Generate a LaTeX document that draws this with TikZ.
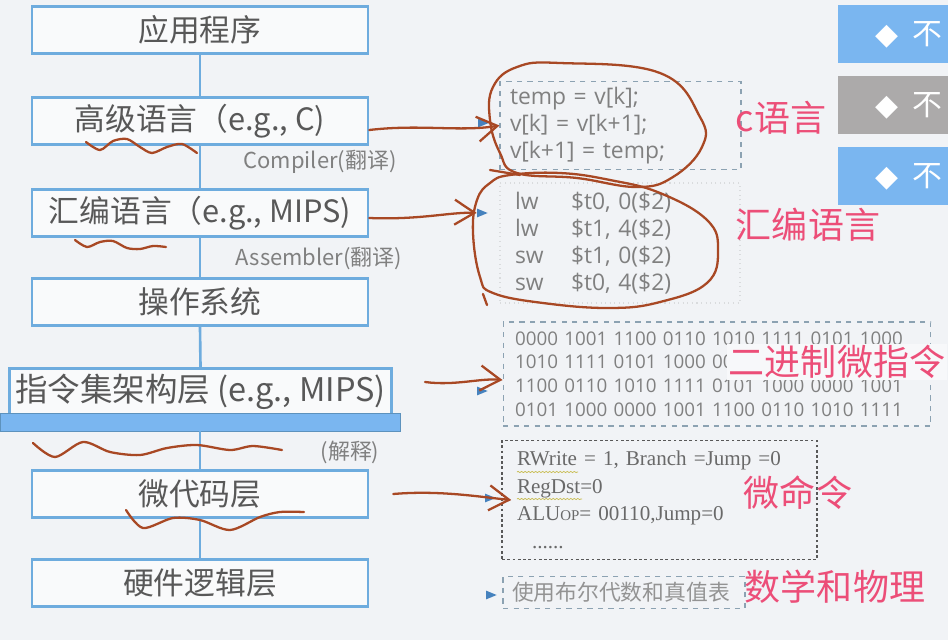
\documentclass[tikz,border=0pt]{standalone}
\usepackage{fontspec}
\setmainfont{Noto Sans CJK SC}
\newfontfamily\codefont{Open Sans}
\newfontfamily\microfont{Liberation Serif}
\newfontfamily\symfont{DejaVu Sans}
\definecolor{PageBg}{RGB}{241,243,246}
\definecolor{LayerBlue}{RGB}{110,172,222}
\definecolor{BarBlue}{RGB}{122,182,240}
\definecolor{TextGray}{RGB}{88,88,88}
\definecolor{CodeGray}{RGB}{128,128,128}
\definecolor{FrameGray}{RGB}{140,162,178}
\definecolor{Ink}{RGB}{168,72,36}
\definecolor{NotePink}{RGB}{236,78,120}
\definecolor{ButtonGray}{RGB}{172,170,170}
\definecolor{BulletBlue}{RGB}{70,130,190}
\definecolor{Squiggle}{RGB}{200,188,80}
\usetikzlibrary{arrows.meta,positioning,shapes.geometric,decorations.pathmorphing}

\begin{document}
\begin{tikzpicture}[x=0.02cm,y=-0.02cm,
  layer/.style={draw=LayerBlue,line width=1.5pt,fill=white!55!PageBg,minimum width=6.72cm,minimum height=0.94cm,text=TextGray,font=\fontsize{17.5}{20}\selectfont},
  layerline/.style={draw=LayerBlue,line width=1.5pt},
  tool/.style={text=CodeGray,font=\fontsize{12.5}{14}\selectfont},
  codebox/.style={draw=FrameGray,dashed,line width=0.6pt,align=left,text=CodeGray},
  bullet/.style={isosceles triangle,fill=BulletBlue,inner sep=0pt,minimum size=5pt},
  note/.style={text=NotePink,inner sep=1pt,font=\fontsize{20.5}{23}\selectfont},
  button/.style={anchor=north west,minimum height=1.16cm,text width=2.4cm,inner xsep=0.74cm,align=left,text=white,font=\fontsize{17}{20}\selectfont},
  ink/.style={draw=Ink,line width=1.3pt,line cap=round,line join=round},
  inkarrow/.style={ink,-{Straight Barb[length=4mm,width=5mm]}}]
  \clip (0,0) rectangle (948,640);
  \fill[PageBg] (0,0) rectangle (948,640);

  % layers
  \foreach \n/\y/\txt in {1/30/应用程序,2/121/{高级语言（e.g., C)},3/213/{汇编语言（e.g., MIPS)},4/302/操作系统,6/494/微代码层,7/583/硬件逻辑层}
    \node[layer] (L\n) at (200,\y) {\txt};
  \node[layer,minimum width=7.58cm,minimum height=0.88cm,font=\fontsize{18.5}{20}\selectfont] (L5) at (200.5,392) {指令集架构层 (e.g., MIPS)};
  \node[fill=BarBlue,draw=LayerBlue!85!black,line width=0.5pt,minimum width=8cm,minimum height=0.36cm,inner sep=0pt] (isabar) at (200,422) {};
  \foreach \a/\b in {1/2,2/3,3/4,4/5,6/7}
    \draw[layerline] (L\a.south) -- (L\b.north);
  \draw[layerline] (isabar.south) -- (L6.north);
  \node[tool] (compiler) at (320,162) {Compiler(翻译)};
  \node[tool] (assembler) at (319,258) {Assembler(翻译)};
  \node[tool] (interp) at (350,452) {(解释)};

  % examples on the right
  \node[codebox,inner xsep=0.2cm,text width=4.42cm,minimum height=1.74cm,font=\codefont\fontsize{13}{15.3}\selectfont] (cc) at (620.5,125.5) {temp = v[k];\\v[k] = v[k+1];\\v[k+1] = temp;};
  \node[codebox,draw=PageBg!90!black,dotted,inner xsep=0.3cm,text width=4.2cm,minimum height=2.4cm,font=\codefont\fontsize{13}{15.5}\selectfont] (asm) at (620,243) {\makebox[1.12cm][l]{lw}\$t0, 0(\$2)\\\makebox[1.12cm][l]{lw}\$t1, 4(\$2)\\\makebox[1.12cm][l]{sw}\$t1, 0(\$2)\\\makebox[1.12cm][l]{sw}\$t0, 4(\$2)};
  \node[codebox,inner xsep=0.24cm,text width=8.08cm,minimum height=2.08cm,font=\codefont\fontsize{10.7}{13.4}\selectfont] (bin) at (717,374) {0000 1001 1100 0110 1010 1111 0101 1000\\1010 1111 0101 1000 0000 1001 1100 0110\\1100 0110 1010 1111 0101 1000 0000 1001\\0101 1000 0000 1001 1100 0110 1010 1111};
  \node[codebox,draw=TextGray,dash pattern=on 1.6pt off 1.4pt,line width=0.9pt,inner xsep=0.3cm,text width=5.7cm,minimum height=2.38cm,text=TextGray!90,font=\microfont\fontsize{12}{15.7}\selectfont] (micro) at (659.5,500) {RWrite = 1, Branch =Jump =0\\RegDst=0\\ALU{\fontsize{8.5}{10}\selectfont OP}= 00110,Jump=0\\\hspace*{0.3cm}......};
  \node[codebox,inner xsep=0.18cm,text width=4.48cm,minimum height=0.62cm,text=CodeGray!85,font=\fontsize{12.4}{14}\selectfont] (logic) at (624,592.5) {使用布尔代数和真值表};
  \draw[Squiggle,line width=0.4pt,decorate,decoration={snake,amplitude=0.35pt,segment length=2pt}] (517,472) -- (578,472);
  \draw[Squiggle,line width=0.4pt,decorate,decoration={snake,amplitude=0.35pt,segment length=2pt}] (517,499) -- (582,499);
  \foreach \b/\x/\y in {b1/481/123,b2/480/213,b3/480/391,b4/488/498,b5/489/595}
    \node[bullet] (\b) at (\x,\y) {};

  % buttons at the right edge
  \node[button,fill=BarBlue] (btn1) at (838,5) {{\symfont\fontsize{17}{18}\selectfont ◆}\hspace{0.28cm}不};
  \node[button,fill=ButtonGray] (btn2) at (838,76) {{\symfont\fontsize{17}{18}\selectfont ◆}\hspace{0.28cm}不};
  \node[button,fill=BarBlue] (btn3) at (838,147) {{\symfont\fontsize{17}{18}\selectfont ◆}\hspace{0.28cm}不};

  % notes
  \node[note] (nC) at (781,118) {c语言};
  \node[note] (nAsm) at (808,225) {汇编语言};
  \node[note,fill=white!40!PageBg] (nBin) at (837,362) {二进制微指令};
  \node[note] (nMicro) at (798,493) {微命令};
  \node[note] (nMath) at (835,587) {数学和物理};

  % hand-drawn marks
  \draw[ink] plot[smooth cycle,tension=0.7] coordinates {(560,63) (660,73) (700,117) (702,147) (673,177) (637,187) (577,178) (517,173) (500,153) (490,120) (493,87) (517,67)};
  \draw[ink] (490,170) -- (520,175);
  \draw[ink] plot[smooth cycle,tension=0.7] coordinates {(510,175) (560,173) (610,180) (660,193) (707,220) (718,250) (707,283) (660,302) (610,308) (543,303) (493,293) (480,277) (473,233) (477,200) (490,183)};
  \draw[ink] (483,294) -- (487,305);
  \draw[ink] plot[smooth] coordinates {(86,142) (100,150) (113,141) (127,139) (140,147) (152,153) (167,147) (182,144) (197,153)};
  \draw[ink] plot[smooth] coordinates {(75,240) (87,247) (100,242) (113,241) (127,248) (140,249) (153,246) (166,247)};
  \draw[ink] plot[smooth] coordinates {(33,443) (55,457) (83,442) (110,452) (140,455) (167,448) (197,445) (230,450) (253,446) (282,450)};
  \draw[ink] plot[smooth] coordinates {(126,510) (143,528) (173,518) (200,520) (230,530) (260,517) (280,512) (304,512)};
  \draw[inkarrow] ([yshift=-0.18cm]L2.east) .. controls (420,124) and (460,132) .. (cc.west);
  \draw[inkarrow] ([yshift=-0.1cm]L3.east) .. controls (420,220) and (450,212) .. (b2);
  \coordinate (isaInk) at (425,382);
  \draw[inkarrow] (isaInk) .. controls (455,386) and (480,378) .. ([yshift=-0.12cm]bin.west);
  \draw[inkarrow] ([xshift=0.48cm]L6.east) .. controls (440,490) and (480,497) .. ([xshift=0.2cm]micro.west);
\end{tikzpicture}
\end{document}
